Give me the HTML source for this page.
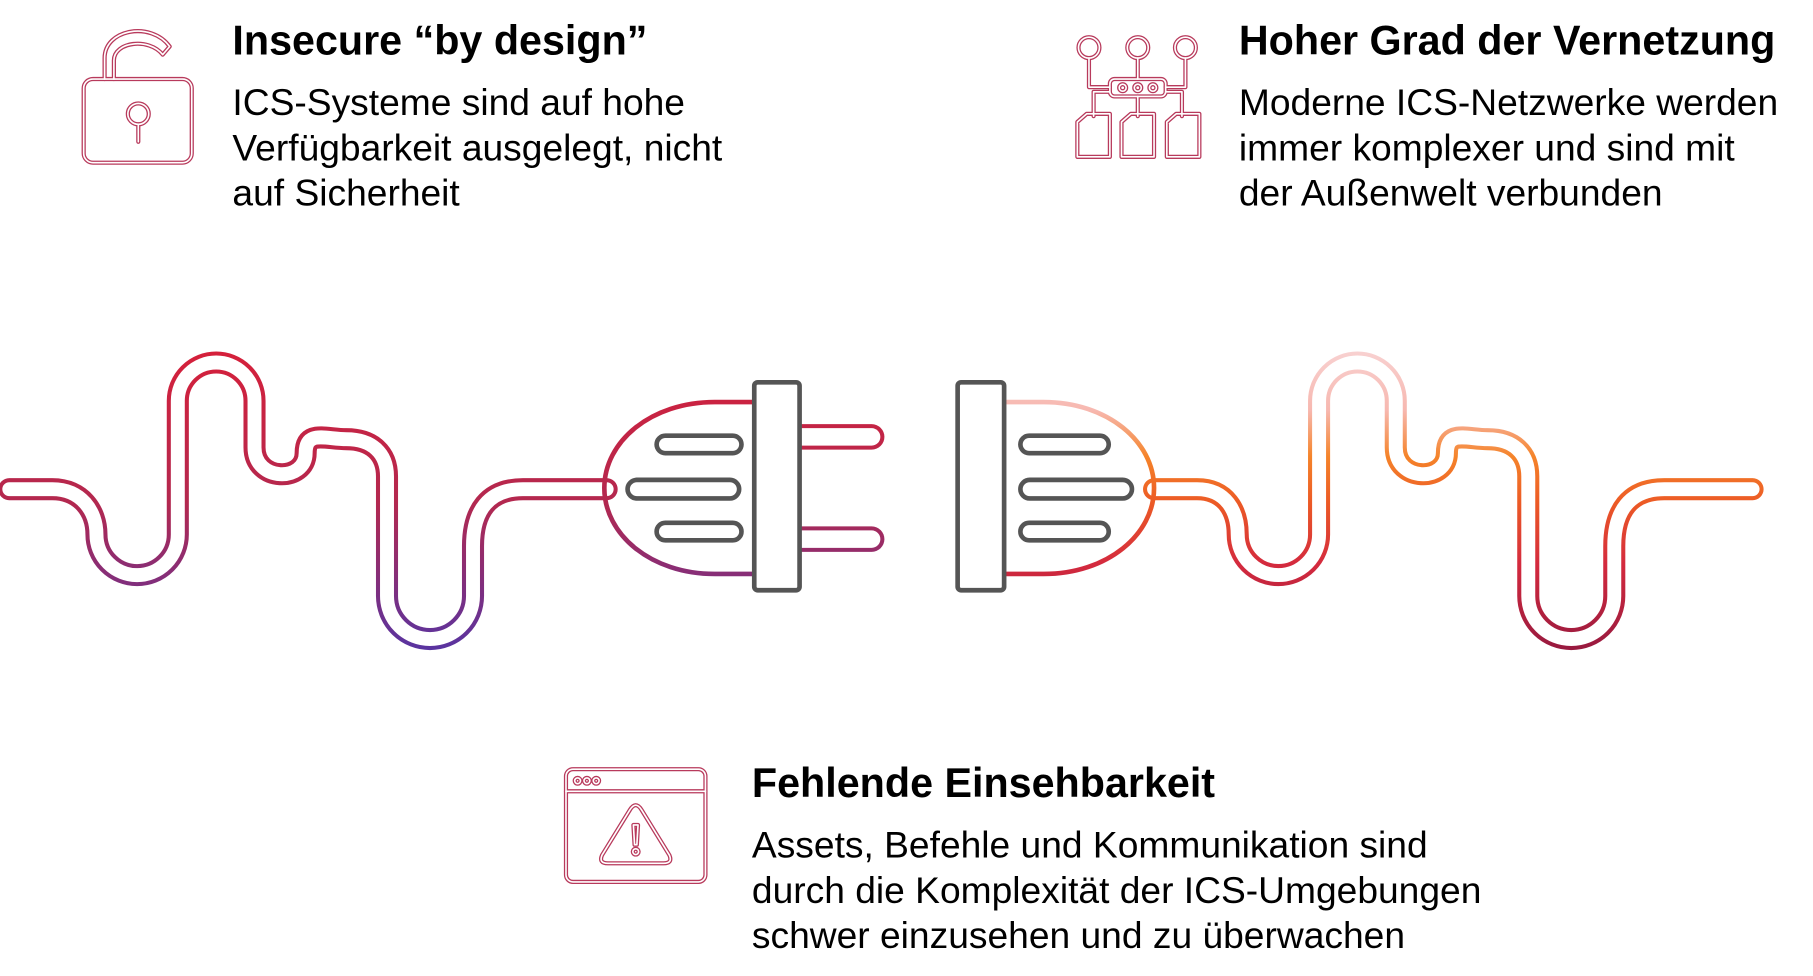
<!DOCTYPE html>
<html><head><meta charset="utf-8"><style>
html,body{margin:0;padding:0;background:#fff;}
svg{display:block;}
text{font-family:"Liberation Sans",Arial,sans-serif;fill:#000;}
.t{font-weight:bold;font-size:35.5px;}
.b{font-size:32px;}
</style></head><body>
<svg width="1813" height="976" viewBox="0 0 1560 840" preserveAspectRatio="none" xmlns="http://www.w3.org/2000/svg">
<defs>
<linearGradient id="gl" gradientUnits="userSpaceOnUse" x1="0" y1="300" x2="0" y2="565">
<stop offset="0" stop-color="#d6203a"/><stop offset="0.5" stop-color="#b3284f"/><stop offset="1" stop-color="#5534a4"/>
</linearGradient>
<linearGradient id="gr" gradientUnits="userSpaceOnUse" x1="0" y1="300" x2="0" y2="565">
<stop offset="0" stop-color="#f8d2d2"/><stop offset="0.2" stop-color="#f7b8b0"/><stop offset="0.35" stop-color="#f5842a"/><stop offset="0.5" stop-color="#ec5a25"/><stop offset="0.7" stop-color="#d42a3e"/><stop offset="1" stop-color="#93183f"/>
</linearGradient>
</defs>

<g fill="none" stroke-linecap="round" stroke-linejoin="round">
<path d="M8,421 L45,421 C70,421 83,440 83,460 A35,35 0 0 0 153,460 L153,345 A33,33 0 0 1 219,345 L219,385 C219,415 263,415 263,390 C263,370 280,378 298,378 C320,378 333,390 333,410 L333,513 A37,37 0 0 0 407,513 L407,470 C407,440 420,421 450,421 L522,421" stroke="url(#gl)" stroke-width="19"/>
<path d="M8,421 L45,421 C70,421 83,440 83,460 A35,35 0 0 0 153,460 L153,345 A33,33 0 0 1 219,345 L219,385 C219,415 263,415 263,390 C263,370 280,378 298,378 C320,378 333,390 333,410 L333,513 A37,37 0 0 0 407,513 L407,470 C407,440 420,421 450,421 L522,421" stroke="#fff" stroke-width="12"/>
<path d="M680,376 L750,376" stroke="url(#gl)" stroke-width="22"/>
<path d="M680,376 L750,376" stroke="#fff" stroke-width="15"/>
<path d="M680,464 L750,464" stroke="url(#gl)" stroke-width="22"/>
<path d="M680,464 L750,464" stroke="#fff" stroke-width="15"/>
<path d="M650,346 L615,346 C560,346 520,380 520,420 C520,460 560,494 615,494 L650,494" stroke="url(#gl)" stroke-width="4"/>
</g>
<g fill="#fff" stroke="#555" stroke-width="4">
<rect x="565" y="375" width="73" height="15" rx="7.5"/>
<rect x="540" y="413" width="96" height="16" rx="8"/>
<rect x="565" y="450" width="73" height="15" rx="7.5"/>
<rect x="649" y="329" width="39" height="179" rx="3"/>
</g>

<g fill="none" stroke-linecap="round" stroke-linejoin="round">
<path d="M993,421 L1030,421 C1055,421 1065,440 1065,460 A35,35 0 0 0 1135,460 L1135,345 A33,33 0 0 1 1201,345 L1201,385 C1201,415 1245,415 1245,390 C1245,370 1262,378 1280,378 C1302,378 1315,390 1315,410 L1315,513 A37,37 0 0 0 1389,513 L1389,470 C1389,440 1402,421 1432,421 L1508,421" stroke="url(#gr)" stroke-width="19"/>
<path d="M993,421 L1030,421 C1055,421 1065,440 1065,460 A35,35 0 0 0 1135,460 L1135,345 A33,33 0 0 1 1201,345 L1201,385 C1201,415 1245,415 1245,390 C1245,370 1262,378 1280,378 C1302,378 1315,390 1315,410 L1315,513 A37,37 0 0 0 1389,513 L1389,470 C1389,440 1402,421 1432,421 L1508,421" stroke="#fff" stroke-width="12"/>
<path d="M864,346 L898,346 C953,346 993,380 993,420 C993,460 953,494 898,494 L864,494" stroke="url(#gr)" stroke-width="4"/>
</g>
<g fill="#fff" stroke="#555" stroke-width="4">
<rect x="878" y="375" width="76" height="15" rx="7.5"/>
<rect x="878" y="413" width="96" height="16" rx="8"/>
<rect x="878" y="450" width="76" height="15" rx="7.5"/>
<rect x="824" y="329" width="40" height="179" rx="3"/>
</g>

<g fill="none" stroke-linecap="round" stroke-linejoin="round">
<g id="lock">
<rect x="72" y="68" width="93" height="72" rx="8"/>
<path d="M90,68 L90,50 C90,25 130,18 146,40 L140,47 C128,32 98,36 98,52 L98,68"/>
<circle cx="119" cy="98" r="9"/>
<path d="M119,107 L119,122"/>
</g>
<g id="net">
<circle cx="937" cy="41" r="9"/><circle cx="979" cy="41" r="9"/><circle cx="1020" cy="41" r="9"/>
<path d="M979,50 L979,68 M937,50 L937,75 L955,75 M1020,50 L1020,75 L1003,75"/>
<rect x="955" y="68" width="48" height="15" rx="4"/>
<circle cx="966" cy="75.5" r="3"/><circle cx="979" cy="75.5" r="3"/><circle cx="992" cy="75.5" r="3"/>
<path d="M979,83 L979,100 M955,79 L941,79 L941,100 M1003,79 L1017,79 L1017,100"/>
<path d="M927,135 L927,105 L935,98 L955,98 L955,135 Z M965,135 L965,105 L973,98 L993,98 L993,135 Z M1004,135 L1004,105 L1012,98 L1032,98 L1032,135 Z"/>
</g>
<g id="warn">
<rect x="487" y="662" width="120" height="97" rx="6"/>
<path d="M487,681 L607,681"/>
<circle cx="497" cy="672" r="2.5"/><circle cx="505" cy="672" r="2.5"/><circle cx="513" cy="672" r="2.5"/>
<path d="M542,697 Q547,689 552,697 L576,736 Q579,743 571,743 L523,743 Q515,743 518,736 Z"/>
<path d="M545,710 L549,710 L548,727 L546,727 Z"/>
<circle cx="547" cy="733" r="2.5"/>
</g>
</g>
<g fill="none" stroke="#b83a5c" stroke-width="3.6" stroke-linecap="round" stroke-linejoin="round">
<use href="#lock"/><use href="#net"/><use href="#warn"/>
</g>
<g fill="none" stroke="#fff" stroke-width="1.4" stroke-linecap="round" stroke-linejoin="round">
<use href="#lock"/><use href="#net"/><use href="#warn"/>
</g>

<text class="t" x="200" y="47">Insecure “by design”</text>
<text class="b" x="200" y="99">ICS-Systeme sind auf hohe</text>
<text class="b" x="200" y="138">Verfügbarkeit ausgelegt, nicht</text>
<text class="b" x="200" y="177">auf Sicherheit</text>

<text class="t" x="1066" y="47">Hoher Grad der Vernetzung</text>
<text class="b" x="1066" y="99">Moderne ICS-Netzwerke werden</text>
<text class="b" x="1066" y="138">immer komplexer und sind mit</text>
<text class="b" x="1066" y="177">der Außenwelt verbunden</text>

<text class="t" x="647" y="686">Fehlende Einsehbarkeit</text>
<text class="b" x="647" y="738">Assets, Befehle und Kommunikation sind</text>
<text class="b" x="647" y="777">durch die Komplexität der ICS-Umgebungen</text>
<text class="b" x="647" y="816">schwer einzusehen und zu überwachen</text>
</svg>
</body></html>
